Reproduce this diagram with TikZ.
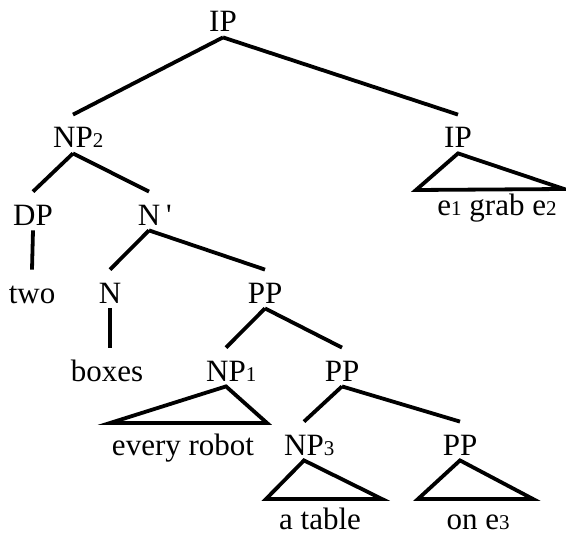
\documentclass[tikz,border=0pt]{standalone}
\usepackage{fontspec}
\setmainfont{Liberation Serif}
\usepackage{tikz}
\usetikzlibrary{positioning}
\newcommand{\dig}[1]{{\fontsize{10.5}{12}\selectfont #1}}
\newcommand{\subi}[1]{\rlap{\dig{#1}}}
\tikzset{
  cat/.style={anchor=base,inner sep=0pt,text height=16.5pt,text depth=2.5pt,font=\fontsize{15.5}{18}\selectfont},
  rama/.style={line width=1.9pt},
  tri/.style={line width=1.9pt,line join=miter}
}

\begin{document}
\begin{tikzpicture}[x=0.5pt,y=-0.5pt]
\useasboundingbox (0,0) rectangle (566,534);
\node[cat] (ip) at (223,32) {IP};
\node[cat] (np2) at (73,148) {NP\subi{2}};
\node[cat] (ip2) at (458,148) {IP};
\node[cat] (dp) at (33,225) {DP};
\node[cat] (nbar) at (149,225) {N\rlap{\hspace{3pt}\textquotesingle}};
\node[cat] (e12) at (497,215) {e\dig{1} grab e\dig{2}};
\node[cat] (two) at (32,303) {two};
\node[cat] (n) at (110,303) {N};
\node[cat] (pp1) at (265,303) {PP};
\node[cat] (boxes) at (107,381) {boxes};
\node[cat] (np1) at (226,381) {NP\subi{1}};
\node[cat] (pp2) at (342,381) {PP};
\node[cat] (robot) at (183,455) {every robot};
\node[cat] (np3) at (304,455) {NP\subi{3}};
\node[cat] (pp3) at (460,455) {PP};
\node[cat] (mesa) at (320,529) {a table};
\node[cat] (one3) at (478,529) {on e\dig{3}};
% esquinas de los triangulos
\coordinate (ipL) at (416,190); \coordinate (ipR) at (564,189);
\coordinate (robL) at (110,423); \coordinate (robR) at (267,423);
\coordinate (mesaL) at (266,499); \coordinate (mesaR) at (382,499);
\coordinate (oneL) at (418,499); \coordinate (oneR) at (533,499);
% ramas
\draw[rama] (ip.south) -- (np2.north);
\draw[rama] (ip.south) -- (ip2.north);
\draw[rama] (np2.south) -- (dp.north);
\draw[rama] (np2.south) -- (nbar.north);
\draw[rama] (dp.south) -- (two.north);
\draw[rama] (nbar.south) -- (n.north);
\draw[rama] (nbar.south) -- (pp1.north);
\draw[rama] (n.south) -- (n.south |- boxes.north);
\draw[rama] (pp1.south) -- (np1.north);
\draw[rama] (pp1.south) -- (pp2.north);
\draw[rama] (pp2.south) -- (np3.north);
\draw[rama] (pp2.south) -- (pp3.north);
% triangulos
\draw[tri] (ip2.south) -- (ipL) -- (ipR) -- cycle;
\draw[tri] (np1.south) -- (robL) -- (robR) -- cycle;
\draw[tri] (np3.south) -- (mesaL) -- (mesaR) -- cycle;
\draw[tri] (pp3.south) -- (oneL) -- (oneR) -- cycle;
\end{tikzpicture}
\end{document}
